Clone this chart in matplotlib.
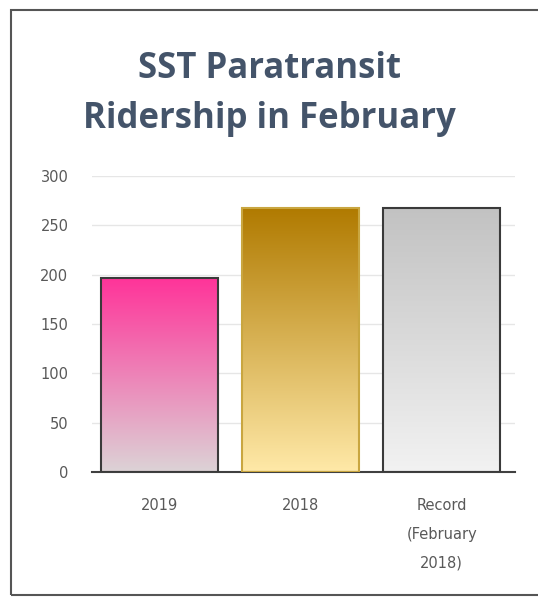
import matplotlib.pyplot as plt
import numpy as np
from matplotlib.colors import LinearSegmentedColormap
from matplotlib.patches import Rectangle

categories = ["2019", "2018", "Record\n(February\n2018)"]
riders = [197, 268, 268]

# gradient top -> bottom for each bar
top_colors = ["#FF3399", "#B07A00", "#C2C2C2"]
bottom_colors = ["#DCD3D6", "#FFE9A8", "#F2F2F2"]
edge_colors = ["#3a3a3a", "#C9A640", "#3a3a3a"]

fig = plt.figure(figsize=(5.38, 5.97), dpi=100)
fig.patches.append(Rectangle((11 / 538, 2 / 597), 1.0, 1 - 12 / 597,
                             transform=fig.transFigure, fill=False,
                             edgecolor="#555555", linewidth=1.5))

ax = fig.add_axes([92 / 538, 1 - 472 / 597, (515 - 92) / 538, (472 - 176) / 597])

x = np.arange(len(categories))
bars = ax.bar(x, riders, width=0.83, color="none", zorder=3)
grad = np.linspace(0, 1, 256).reshape(-1, 1)
for i, b in enumerate(bars):
    cmap = LinearSegmentedColormap.from_list("g%d" % i, [bottom_colors[i], top_colors[i]])
    im = ax.imshow(grad, cmap=cmap, origin="lower", aspect="auto",
                   extent=[b.get_x(), b.get_x() + b.get_width(), 0, b.get_height()], zorder=2)
    im.set_clip_path(b)
    b.set_edgecolor(edge_colors[i])
    b.set_linewidth(1.5)

ax.set_xlim(-0.48, 2.52)
ax.set_ylim(0, 300)
ax.set_yticks([0, 50, 100, 150, 200, 250, 300])
ax.set_xticks(x)
ax.set_xticklabels(categories, linespacing=2.15)
ax.tick_params(axis="both", length=0, labelsize=10.5, labelcolor="#595959")
ax.tick_params(axis="x", pad=19)
ax.tick_params(axis="y", pad=17)
ax.grid(axis="y", color="#E6E6E6", linewidth=1, zorder=0)
for s in ["top", "right", "left"]:
    ax.spines[s].set_visible(False)
ax.spines["bottom"].set_color("#404040")
ax.spines["bottom"].set_linewidth(1.5)

fig.text(0.5, 1 - 94 / 597, "SST Paratransit\nRidership in February", ha="center", va="center",
         fontsize=25, fontweight="bold", color="#44546A", family="Open Sans", linespacing=1.5)

fig.savefig("out.png", dpi=100)
